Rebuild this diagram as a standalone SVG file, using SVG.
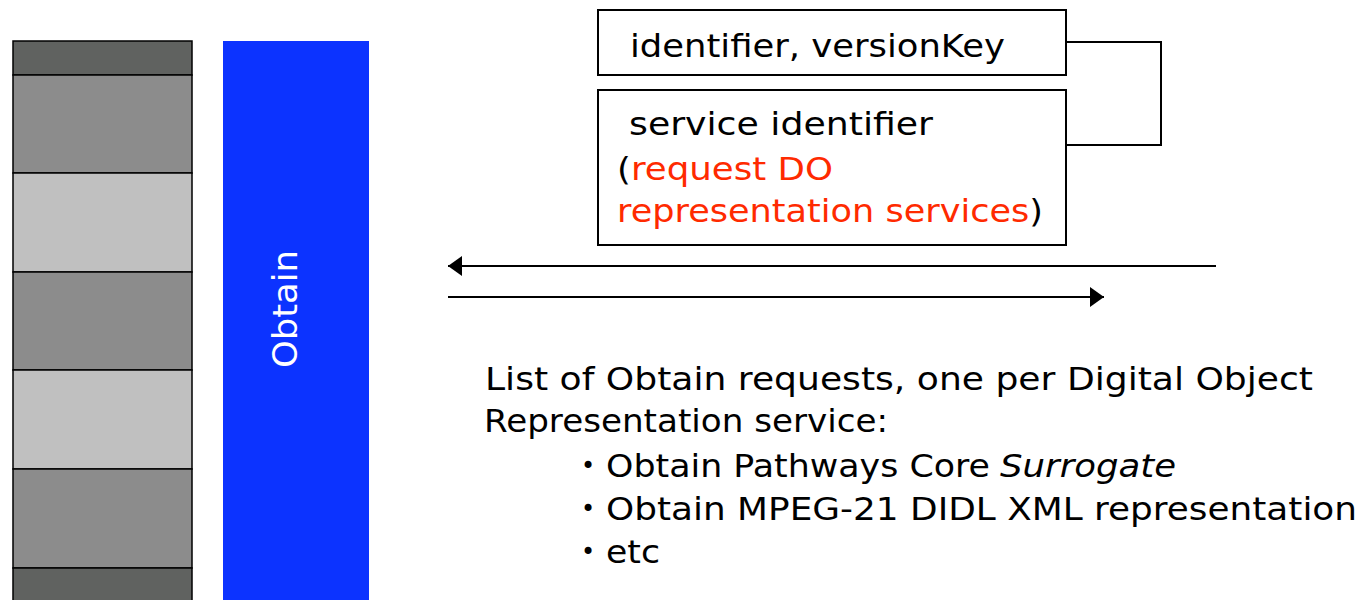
<svg xmlns="http://www.w3.org/2000/svg" width="1363" height="600" viewBox="0 0 1363 600">
<style>
.t{font-family:"DejaVu Sans","Liberation Sans",sans-serif;font-size:32px;fill:#000}
.b{font-family:"DejaVu Sans","Liberation Sans",sans-serif;font-size:24px;fill:#000}
.red{fill:#ff2a00}
.box{fill:#fff;stroke:#000;stroke-width:2}
.band{stroke:#000;stroke-width:1.5}
.ln{stroke:#000;stroke-width:2;fill:none}
</style>
<defs>
<marker id="ah" markerWidth="14" markerHeight="20" refX="14" refY="10" orient="auto" markerUnits="userSpaceOnUse">
<path d="M0,0 L14,10 L0,20 Z" fill="#000"/>
</marker>
</defs>
<g id="stack">
<rect x="13" y="41" width="179" height="34" fill="#606260" class="band"/>
<rect x="13" y="75" width="179" height="98" fill="#8c8c8c" class="band"/>
<rect x="13" y="173" width="179" height="99" fill="#c0c0c0" class="band"/>
<rect x="13" y="272" width="179" height="98" fill="#8c8c8c" class="band"/>
<rect x="13" y="370" width="179" height="99" fill="#c0c0c0" class="band"/>
<rect x="13" y="469" width="179" height="99" fill="#8c8c8c" class="band"/>
<rect x="13" y="568" width="179" height="40" fill="#606260" class="band"/>
</g>
<g id="obtain">
<rect x="223" y="41" width="146" height="565" fill="#0c33ff"/>
<text class="t" transform="translate(297,309) rotate(-90)" text-anchor="middle" textLength="118" lengthAdjust="spacingAndGlyphs" style="fill:#fff;font-size:33px">Obtain</text>
</g>
<g id="box1">
<rect x="598" y="10" width="468" height="65" class="box"/>
<text class="t" x="630" y="57" textLength="375" lengthAdjust="spacingAndGlyphs">identifier, versionKey</text>
</g>
<g id="box2">
<rect x="598" y="90" width="468" height="155" class="box"/>
<text class="t" x="629" y="135" textLength="304" lengthAdjust="spacingAndGlyphs">service identifier</text>
<text class="t" x="617" y="180" textLength="216" lengthAdjust="spacingAndGlyphs">(<tspan class="red">request DO</tspan></text>
<text class="t" x="617" y="222" textLength="426" lengthAdjust="spacingAndGlyphs"><tspan class="red">representation services</tspan>)</text>
</g>
<g id="connectors">
<polyline points="1066,42 1161,42 1161,145 1066,145" class="ln"/>
<line x1="1216" y1="266" x2="448" y2="266" class="ln" marker-end="url(#ah)"/>
<line x1="448" y1="297" x2="1104" y2="297" class="ln" marker-end="url(#ah)"/>
</g>
<g id="list">
<text class="t" x="485" y="390" textLength="828" lengthAdjust="spacingAndGlyphs">List of Obtain requests, one per Digital Object</text>
<text class="t" x="484" y="432" textLength="404" lengthAdjust="spacingAndGlyphs">Representation service:</text>
<text class="b" x="581" y="474">•</text>
<text class="t" x="606" y="477" textLength="384" lengthAdjust="spacingAndGlyphs">Obtain Pathways Core</text>
<text class="t" x="1000" y="477" textLength="176" lengthAdjust="spacingAndGlyphs" font-style="italic">Surrogate</text>
<text class="b" x="581" y="517">•</text>
<text class="t" x="606" y="520" textLength="751" lengthAdjust="spacingAndGlyphs">Obtain MPEG-21 DIDL XML representation</text>
<text class="b" x="581" y="560">•</text>
<text class="t" x="606" y="563" textLength="54" lengthAdjust="spacingAndGlyphs">etc</text>
</g>
</svg>
